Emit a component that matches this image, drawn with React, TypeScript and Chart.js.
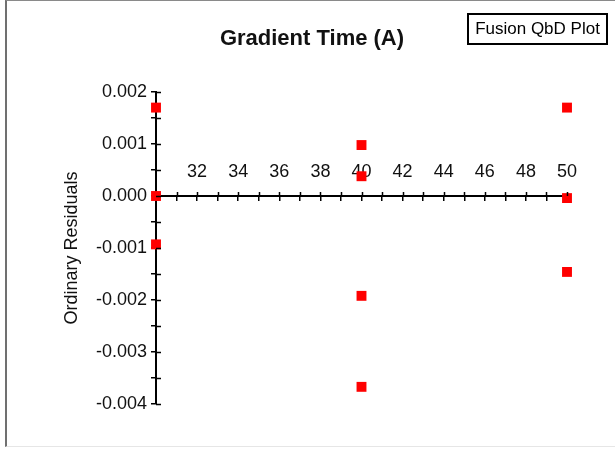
import React, { useEffect, useRef } from "react";
import { Chart, registerables } from "chart.js";

Chart.register(...registerables);

const gradientTimes = [30, 30, 30, 40, 40, 40, 40, 50, 50, 50];
const residuals = [0.0017, 0.0, -0.00093, 0.00098, 0.00038, -0.00192, -0.00367, 0.0017, -0.00004, -0.00146];
const chartTitle = "Gradient Time (A)";
const yAxisTitle = "Ordinary Residuals";
const badgeText = "Fusion QbD Plot";

const FONT = "'Liberation Sans', Arial, sans-serif";

const crossTicks = {
  id: "crossTicks",
  afterDraw(chart: any) {
    const ctx = chart.ctx;
    const xs = chart.scales.x;
    const ys = chart.scales.y;
    const y0 = ys.getPixelForValue(0);
    ctx.save();
    ctx.strokeStyle = "#000";
    ctx.lineWidth = 1.5;
    ctx.beginPath();
    for (const t of xs.ticks) {
      if (t.value === xs.min) continue;
      const px = Math.round(xs.getPixelForValue(t.value)) + 0.5;
      ctx.moveTo(px, y0 - 4);
      ctx.lineTo(px, y0);
    }
    const left = chart.chartArea.left;
    for (const t of ys.ticks) {
      const py = Math.round(ys.getPixelForValue(t.value)) + 0.5;
      ctx.moveTo(left, py);
      ctx.lineTo(left + 5, py);
    }
    ctx.stroke();
    ctx.restore();
  },
};

const badge = {
  id: "badge",
  afterDraw(chart: any) {
    const ctx = chart.ctx;
    ctx.save();
    ctx.strokeStyle = "#000";
    ctx.lineWidth = 2;
    ctx.strokeRect(468, 14, 139, 30);
    ctx.fillStyle = "#000";
    ctx.font = `17px ${FONT}`;
    ctx.textAlign = "center";
    ctx.textBaseline = "middle";
    ctx.fillText(badgeText, 537.5, 29.5);
    ctx.restore();
  },
};

export default function App() {
  const ref = useRef<HTMLCanvasElement>(null);
  useEffect(() => {
    const chart = new Chart(ref.current!, {
      type: "scatter",
      data: {
        datasets: [
          {
            data: gradientTimes.map((x, i) => ({ x, y: residuals[i] })),
            pointStyle: "rect",
            pointRadius: 7,
            pointHoverRadius: 7,
            backgroundColor: "#ff0000",
            borderWidth: 0,
            clip: false as any,
          },
        ],
      },
      options: {
        animation: false,
        responsive: false,
        layout: { padding: { left: 9, right: 0, top: 0, bottom: 46 } },
        plugins: {
          legend: { display: false },
          tooltip: { enabled: false },
          title: {
            display: true,
            text: chartTitle,
            color: "#111",
            font: { family: FONT, size: 22, weight: "bold" },
            padding: { top: 26, bottom: 39.6 },
          },
        },
        scales: {
          x: {
            type: "linear",
            position: { y: 0 } as any,
            min: 30,
            max: 50,
            ticks: {
              stepSize: 1,
              autoSkip: false,
              maxRotation: 0,
              color: "#111",
              font: { family: FONT, size: 18 },
              padding: -39,
              callback: (v: any) => (v % 2 === 0 && v !== 30 ? String(v) : ""),
            },
            grid: { drawOnChartArea: false, tickLength: 4, color: "#000", lineWidth: 1.5 },
            border: { display: true, color: "#000", width: 2 },
          },
          y: {
            type: "linear",
            position: "left",
            min: -0.004,
            max: 0.002,
            afterFit: (s: any) => {
              s.width = 147;
            },
            ticks: {
              stepSize: 0.0005,
              autoSkip: false,
              color: "#111",
              font: { family: FONT, size: 18 },
              padding: 4,
              callback: (v: any) =>
                Math.abs(Math.round(v * 2000)) % 2 === 0 ? Number(v).toFixed(3) : "",
            },
            title: {
              display: true,
              text: yAxisTitle,
              color: "#111",
              font: { family: FONT, size: 18 },
              padding: { top: 52, bottom: 0 },
            },
            grid: { drawOnChartArea: false, tickLength: 5, color: "#000", lineWidth: 1.5 },
            border: { display: true, color: "#000", width: 2 },
          },
          y2: {
            type: "linear",
            position: "right",
            display: true,
            afterFit: (s: any) => {
              s.width = 48;
            },
            ticks: { display: false },
            grid: { display: false },
            border: { display: false },
          },
        },
      },
      plugins: [crossTicks, badge],
    });
    return () => chart.destroy();
  }, []);

  return (
    <div style={{ position: "fixed", left: 0, top: 0, width: 615, height: 450, background: "#fff" }}>
      <div
        style={{
          position: "absolute",
          left: 5,
          top: 0,
          width: 610,
          height: 447,
          borderLeft: "2px solid #707070",
          borderTop: "1px solid #8a8a8a",
          borderBottom: "1px solid #e6e6e6",
          boxSizing: "border-box",
        }}
      />
      <canvas ref={ref} width={615} height={450} style={{ position: "absolute", left: 0, top: 0 }} />
    </div>
  );
}
